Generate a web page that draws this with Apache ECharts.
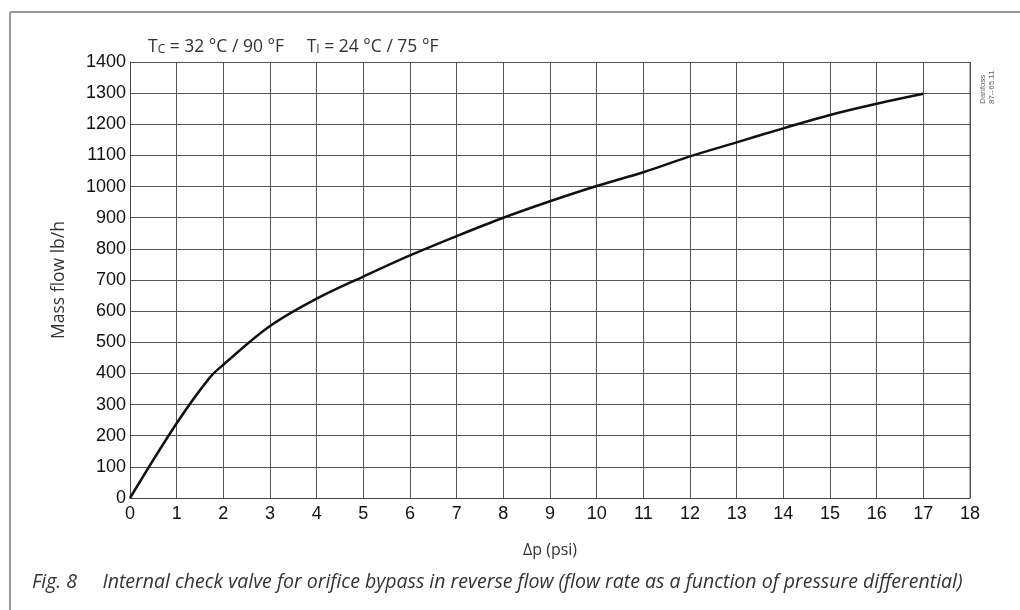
<!DOCTYPE html>
<html>
<head>
<meta charset="utf-8">
<script src="https://cdn.jsdelivr.net/npm/echarts@6/dist/echarts.min.js"></script>
<style>
  html, body { margin: 0; padding: 0; background: #fff; }
  #chart { width: 1020px; height: 610px; }
</style>
</head>
<body>
<div id="chart"></div>
<script>
// pressure differential (psi) and mass flow (lb/h)
var dp = [0, 1, 1.7, 2, 3, 4, 5, 6, 7, 8, 9, 10, 11, 12, 13, 14, 15, 16, 17];
var flow = [0, 240, 385, 428, 552, 640, 711, 779, 841, 900, 953, 1002, 1046, 1097, 1142, 1187, 1230, 1266, 1298];

var pts = [];
for (var i = 0; i < dp.length; i++) {
    pts.push([dp[i], flow[i]]);
}

var chart = echarts.init(document.getElementById('chart'));
var option = {
    animation: false,
    backgroundColor: '#fff',
    grid: {
        left: 130,
        right: 50,
        top: 62,
        bottom: 112
    },
    title: {
        text: '{t|T}{s|C}{t| = 32 °C / 90 °F     T}{s|I}{t| = 24 °C / 75 °F}',
        left: 143,
        top: 33,
        textStyle: {
            fontWeight: 'normal',
            rich: {
                t: { fontFamily: 'Open Sans', fontSize: 17.5, fontWeight: 'normal', color: '#333' },
                s: { fontFamily: 'Open Sans', fontSize: 12, fontWeight: 'normal', color: '#333', verticalAlign: 'bottom', padding: [6, 0, 0, 0] }
            }
        }
    },
    xAxis: {
        type: 'value',
        min: 0,
        max: 18,
        interval: 1,
        name: 'Δp (psi)',
        nameLocation: 'middle',
        nameGap: 44,
        nameTextStyle: { fontFamily: 'Open Sans', fontSize: 16, color: '#333' },
        axisLine: { lineStyle: { color: '#444', width: 1 } },
        axisTick: { show: false },
        axisLabel: { fontFamily: 'Liberation Sans', fontSize: 18, color: '#111', margin: 7 },
        splitLine: { show: true, lineStyle: { color: '#555', width: 1 } }
    },
    yAxis: {
        type: 'value',
        min: 0,
        max: 1400,
        interval: 100,
        name: 'Mass flow lb/h',
        nameLocation: 'middle',
        nameGap: 62,
        nameTextStyle: { fontFamily: 'Open Sans', fontSize: 17.5, color: '#333' },
        axisLine: { show: true, lineStyle: { color: '#444', width: 1 } },
        axisTick: { show: false },
        axisLabel: {
            fontFamily: 'Liberation Sans', fontSize: 18, color: '#111', margin: 4,
            formatter: function (v) { return String(v); }
        },
        splitLine: { show: true, lineStyle: { color: '#555', width: 1 } }
    },
    graphic: [
        // frame around the figure (top and left edges visible)
        { type: 'line', shape: { x1: 10, y1: 12, x2: 1020, y2: 12 }, style: { stroke: '#999', lineWidth: 2 } },
        { type: 'line', shape: { x1: 10, y1: 12, x2: 10, y2: 610 }, style: { stroke: '#999', lineWidth: 2 } },
        // right border of plot
        { type: 'line', shape: { x1: 970, y1: 62, x2: 970, y2: 498 }, style: { stroke: '#555', lineWidth: 1 } },
        {
            type: 'text', x: 978, y: 104, rotation: Math.PI / 2,
            style: { text: 'Danfoss\n87--65.11', fontFamily: 'Liberation Sans', fontSize: 8, fill: '#666', lineHeight: 9 }
        },
        {
            type: 'text', x: 32, y: 572,
            style: {
                text: 'Fig. 8     Internal check valve for orifice bypass in reverse flow (flow rate as a function of pressure differential)',
                fontFamily: 'Open Sans', fontStyle: 'italic', fontSize: 19.5, fill: '#333'
            }
        }
    ],
    series: [
        {
            type: 'line',
            data: pts,
            smooth: 0.35,
            showSymbol: false,
            lineStyle: { color: '#111', width: 2.5 }
        }
    ]
};
chart.setOption(option);
</script>
</body>
</html>
